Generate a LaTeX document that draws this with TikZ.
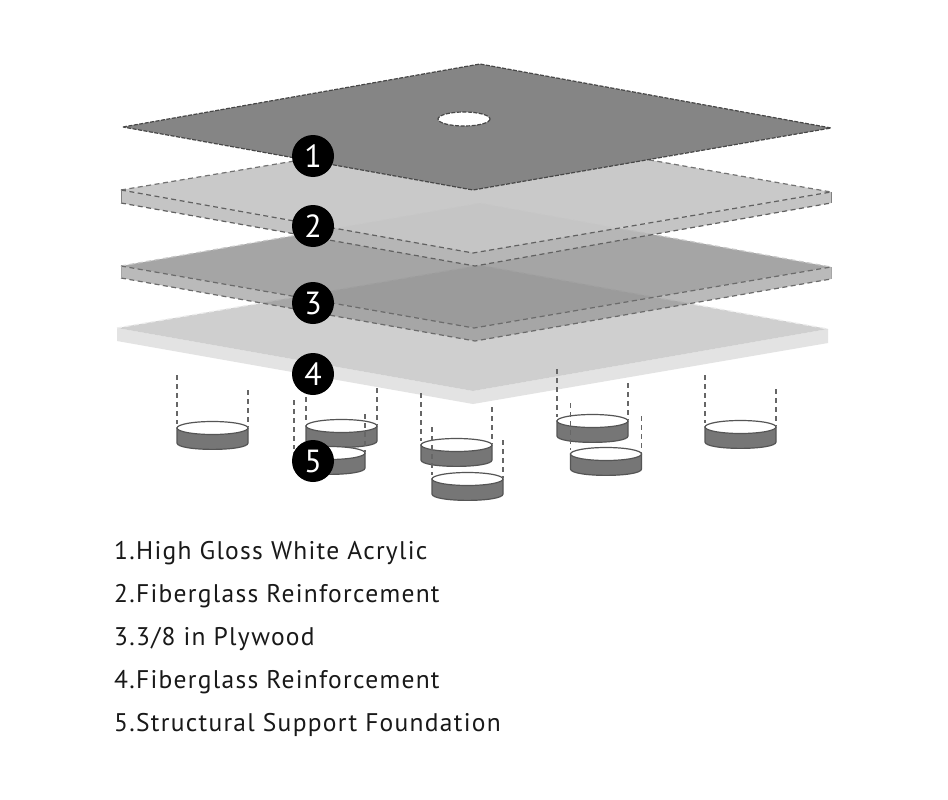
\documentclass[tikz,border=0pt]{standalone}
\usepackage{fontspec}
\setmainfont[LetterSpace=5,Ligatures=NoCommon]{PT Sans}
\usepackage{tikz}
\usetikzlibrary{positioning}
\definecolor{padgray}{RGB}{118,118,118}
\definecolor{padedge}{RGB}{85,85,85}
\newcommand{\pad}[4]{%
  \begin{scope}[shift={(#1,#2)}]
    \filldraw[padbody] (-35.5,0) -- (-35.5,15) .. controls (-35.5,23.5) and (35.5,23.5) .. (35.5,15) -- (35.5,0) -- cycle;
    \filldraw[padtop] (0,0) ellipse [x radius=35.5, y radius=6.5];
    \draw[padguide] (-35.5,-#3) -- (-35.5,-4);
    \draw[padguide] (35.5,-#4) -- (35.5,-1);
  \end{scope}}
\begin{document}
\begin{tikzpicture}[x=1pt, y=-1pt,
  plateedge/.style={dash pattern=on 5pt off 3.5pt, line width=1.2pt},
  padbody/.style={fill=padgray, draw=padedge, line width=1.2pt},
  padtop/.style={fill=white, draw=padedge, line width=1.2pt},
  padguide/.style={draw=black!60, line width=1.4pt, dash pattern=on 5pt off 4pt},
  badge/.style={circle, fill=black, text=white, minimum size=42pt, inner sep=0pt, font=\fontsize{32}{32}\selectfont},
  listitem/.style={anchor=base west, inner sep=0pt, text=black!90, font=\fontsize{25.5}{25.5}\selectfont},
]
\useasboundingbox (0,0) rectangle (948,800);
\fill[white] (0,0) rectangle (948,800);
\fill[fill=black!11] (117,328) -- (473,391) -- (828,329) -- (828,343) -- (473,404) -- (117,341) -- cycle;
\fill[fill=black!19] (117,328) -- (480,265) -- (828,329) -- (473,391) -- cycle;
\draw[plateedge, draw=black!7] (117,328) -- (480,265) -- (828,329);
\fill[fill=black!45, fill opacity=0.6] (121,266) -- (474,328) -- (831,267) -- (831,279) -- (475,341) -- (121,278) -- cycle;
\fill[fill=black!44, fill opacity=0.8] (121,266) -- (480,203) -- (831,267) -- (474,328) -- cycle;
\draw[plateedge, draw=black!22] (121,266) -- (480,203) -- (831,267);
\draw[plateedge, draw=black!58] (121,266) -- (474,328) -- (831,267);
\draw[plateedge, draw=black!58] (121,278) -- (475,341) -- (831,279);
\draw[draw=black!35] (121,266) -- (121,278) (831,267) -- (831,279);
\fill[fill=black!27, fill opacity=0.85] (121,190) -- (473,253) -- (831,192) -- (831,203) -- (475,266) -- (121,203) -- cycle;
\fill[fill=black!22, fill opacity=0.95] (121,190) -- (480,130) -- (831,192) -- (473,253) -- cycle;
\draw[plateedge, draw=black!55] (121,190) -- (480,130) -- (831,192);
\draw[plateedge, draw=black!62] (121,190) -- (473,253) -- (831,192);
\draw[plateedge, draw=black!62] (121,203) -- (475,266) -- (831,203);
\draw[draw=black!50] (121,190) -- (121,203) (831,192) -- (831,203);
\filldraw[even odd rule, fill=black!48, draw=black!72, line width=1.2pt, dash pattern=on 4pt off 1.5pt]
  (123,127) -- (480,64) -- (831,128) -- (473,190) -- cycle
  (464,119) ellipse [x radius=26, y radius=7];
\pad{212.5}{428}{53}{38}
\pad{341.5}{426}{29}{38}
\pad{329.5}{453}{53}{39}
\pad{740.5}{427}{52}{38}
\pad{592.5}{421}{52}{38}
\pad{606}{454}{51}{38}
\pad{456.5}{445}{52}{38}
\pad{467.5}{479}{52}{39}
\node[badge] (B1) at (313,156) {1};
\node[badge] (B2) at (313,226) {2};
\node[badge] (B3) at (313,303) {3};
\node[badge] (B4) at (313,374) {4};
\node[badge] (B5) at (313,461) {5};
\node[listitem] (L1) at (114,559) {1.High Gloss White Acrylic};
\node[listitem] (L2) at (114,602) {2.Fiberglass Reinforcement};
\node[listitem] (L3) at (114,645) {3.3/8 in Plywood};
\node[listitem] (L4) at (114,688) {4.Fiberglass Reinforcement};
\node[listitem] (L5) at (114,731) {5.Structural Support Foundation};
\end{tikzpicture}
\end{document}
